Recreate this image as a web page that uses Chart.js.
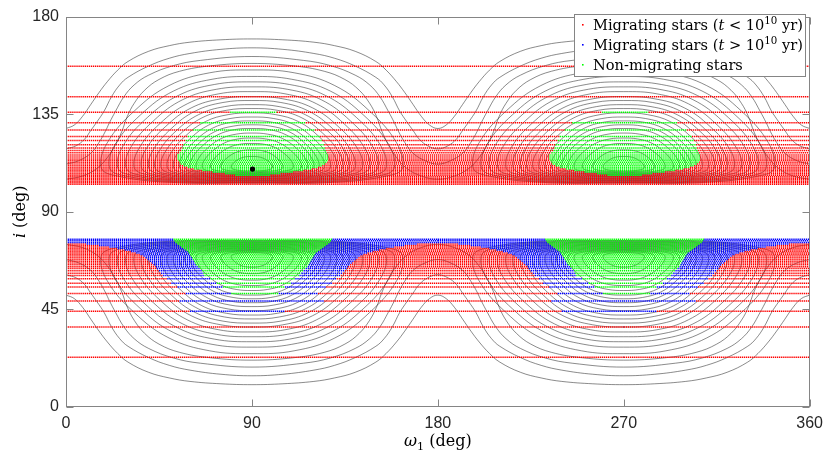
<!DOCTYPE html>
<html>
<head>
<meta charset="utf-8">
<script src="https://cdn.jsdelivr.net/npm/chart.js@4.4.1/dist/chart.umd.min.js"></script>
<style>
  html, body { margin: 0; padding: 0; background: #fff; }
  #wrap { width: 830px; height: 458px; }
</style>
</head>
<body>
<div id="wrap"><canvas id="kozaiChart" width="830" height="458"></canvas></div>
<script>
// axes
const xTicks = [0, 90, 180, 270, 360];
const yTicks = [0, 45, 90, 135, 180];

const RED = '#ff0000', BLUE = '#0000ff', GREEN = '#00ff00';

// inclination of each row of stars above 90 deg
const upperRows = [102.7, 103.4, 104.1, 104.8, 105.5, 106.2, 106.9, 107.6, 108.3, 109.0,
  109.7, 110.4, 111.2, 112.0, 112.8, 113.6, 114.4, 115.3, 116.2, 117.2, 118.3,
  119.4, 120.9, 122.9, 124.7, 127.7, 131.1, 135.9, 143.1, 157.1];
// non-migrating omega range in each upper row (first 180 deg), null = all migrating
const upperGreen = [null, null, null, null, null, null, [82, 99], [77, 104], [71, 110], [66, 115],
  [62, 119], [59, 122], [57, 124], [55.5, 125.5], [55, 126.5], [54.5, 127], [54, 127], [54, 127], [54, 127], [55, 126.5], [56, 126],
  [56.5, 125.5], [57, 125], [58, 124], [59, 123], [61.5, 120.5], [65, 116], [79.5, 102], null, null];

// rows below 90 deg
const lowerRows = [77.3, 76.6, 75.9, 75.2, 74.5, 73.8, 73.1, 72.4, 71.7, 71.0,
  70.3, 69.6, 68.8, 68.0, 67.2, 66.4, 65.6, 64.7, 63.8, 62.8, 61.7,
  60.6, 59.1, 57.1, 55.3, 52.3, 48.9, 44.1, 36.9, 22.9];
// per row: [red ends, green starts, green ends, red starts] (blue in between), first 180 deg
const lowerSplit = [[0, 52, 129, 180], [0, 52.5, 128.5, 180], [0, 53, 128, 180], [10, 54, 127, 170],
  [16, 55, 126, 164], [21, 56, 125, 159], [25, 57, 124, 155], [28.5, 58, 123, 151.5],
  [31.5, 59, 122, 148.5], [34, 59.5, 121, 146], [36, 60, 120.5, 144], [37.5, 60.5, 120, 142.5],
  [38.5, 61, 119.5, 141.5], [39.5, 61.5, 119, 140.5], [40.5, 62, 118.5, 139.5], [41.5, 62.5, 118, 138.5],
  [42.5, 63, 117.5, 137.5], [43.5, 64, 117, 136.5], [44, 65, 116, 136], [45, 66, 115, 135],
  [46, 66.5, 114, 134], [47, 67, 113, 133], [49, 70, 111, 131], [51, 73, 109, 129],
  [54, 76, 106, 126], [58, 80, 103, 122], [55, 90, 90, 125], [60, 83, 83, 106],
  [90, 90, 90, 90], [90, 90, 90, 90]];

// contours, upper-left quarter (omega 0..90, i > 90); circulating ones start at omega = 0
const circQuads = [
  [[0, 128.4], [4, 130], [8, 134], [12, 139.5], [16, 145], [20, 150], [25, 155.3], [30, 159.3], [40, 164], [50, 166.6], [60, 168.2], [75, 169.3], [90, 169.7]],
  [[0, 119], [5, 120.5], [9, 123.5], [12, 127.5], [15, 131.5], [18.5, 136.5], [22, 143], [26, 148.5], [30, 152], [40, 157.2], [50, 160.8], [60, 163], [75, 164.9], [90, 165.6]],
  [[0, 112], [6, 113.5], [12, 117], [16, 122], [19, 127], [21, 131], [24, 136.4], [28, 143], [33, 148.5], [40, 153], [52, 157.4], [65, 159.8], [90, 161.6]],
  [[0, 105], [8, 106.5], [15, 110], [20, 115], [24, 121], [27, 127], [29.7, 134], [33, 140], [38, 146], [45, 151], [55, 154.8], [70, 157.3], [90, 158.4]]
];
// librating ones run from the bottom at omega = 90 round to the top at omega = 90
const librQuads = [
  [[90, 103.2], [49.9, 103.6], [22.8, 106.9], [17, 110.5], [19.9, 121.7], [33.1, 136.5], [49.9, 148.2], [69.6, 154.1], [90, 155.4]],
  [[90, 103.5], [52.1, 103.9], [26.5, 107], [21, 110.5], [23.8, 121], [36.2, 134.8], [52.1, 145.7], [70.7, 151.1], [90, 152.4]],
  [[90, 103.8], [54.3, 104.2], [30.2, 107.2], [25, 110.5], [27.6, 120.4], [39.3, 133.4], [54.3, 143.6], [71.8, 148.7], [90, 149.9]],
  [[90, 104.1], [56.5, 104.5], [33.9, 107.3], [29, 110.5], [31.4, 119.8], [42.4, 132], [56.5, 141.7], [72.9, 146.5], [90, 147.6]],
  [[90, 104.4], [58.7, 104.8], [37.6, 107.5], [33, 110.5], [35.3, 119.2], [45.5, 130.7], [58.7, 139.8], [74, 144.4], [90, 145.4]],
  [[90, 104.7], [60.6, 105.1], [40.8, 107.6], [36.5, 110.5], [38.6, 118.7], [48.3, 129.4], [60.6, 137.9], [75, 142.1], [90, 143.1]],
  [[90, 105], [62.5, 105.4], [44, 107.8], [40, 110.5], [42, 118.2], [51, 128.4], [62.5, 136.4], [76, 140.4], [90, 141.3]],
  [[90, 105.3], [64.2, 105.7], [46.8, 107.9], [43, 110.5], [44.9, 117.7], [53.3, 127.3], [64.2, 134.8], [76.8, 138.5], [90, 139.4]],
  [[90, 105.6], [65.8, 106], [49.5, 108.1], [46, 110.5], [47.8, 117.3], [55.7, 126.2], [65.8, 133.3], [77.7, 136.8], [90, 137.6]],
  [[90, 105.9], [67.5, 106.3], [52.3, 108.2], [49, 110.5], [50.6, 116.8], [58, 125.1], [67.5, 131.6], [78.5, 134.8], [90, 135.6]],
  [[90, 106.2], [69.1, 106.6], [55, 108.4], [52, 110.5], [53.5, 116.3], [60.4, 124], [69.1, 130], [79.4, 133], [90, 133.7]],
  [[90, 106.5], [70.8, 106.9], [57.8, 108.5], [55, 110.5], [56.4, 115.9], [62.7, 122.9], [70.8, 128.5], [80.2, 131.3], [90, 131.9]],
  [[90, 106.8], [72.1, 107.2], [60.1, 108.7], [57.5, 110.5], [58.8, 115.4], [64.7, 121.9], [72.1, 127], [80.9, 129.5], [90, 130.1]],
  [[90, 107.1], [73.5, 107.5], [62.4, 108.8], [60, 110.5], [61.2, 115], [66.6, 120.9], [73.5, 125.5], [81.6, 127.9], [90, 128.4]],
  [[90, 107.4], [75.2, 107.8], [65.2, 109], [63, 110.5], [64.1, 114.5], [68.9, 119.7], [75.2, 123.8], [82.4, 125.8], [90, 126.3]],
  [[90, 107.7], [76.8, 108.1], [67.9, 109.1], [66, 110.5], [67, 113.9], [71.3, 118.3], [76.8, 121.8], [83.3, 123.6], [90, 124]],
  [[90, 108], [79, 108.4], [71.6, 109.3], [70, 110.5], [70.8, 113.3], [74.4, 116.9], [79, 119.7], [84.4, 121.2], [90, 121.5]],
  [[90, 108.4], [81.8, 108.7], [76.2, 109.5], [75, 110.5], [75.6, 112.5], [78.3, 115.1], [81.8, 117.2], [85.8, 118.3], [90, 118.5]],
  [[90, 108.8], [84.5, 109], [80.8, 109.7], [80, 110.5], [80.4, 111.8], [82.2, 113.4], [84.5, 114.7], [87.2, 115.4], [90, 115.5]]
];

const fixedPoint = [90.3, 109.7];

const legendLabels = [
  [{ t: 'Migrating stars (' }, { t: 't', it: true }, { t: ' < 10' }, { t: '10', sup: true }, { t: ' yr)' }],
  [{ t: 'Migrating stars (' }, { t: 't', it: true }, { t: ' > 10' }, { t: '10', sup: true }, { t: ' yr)' }],
  [{ t: 'Non-migrating stars' }]
];
const legendColors = [RED, BLUE, GREEN];

const SERIF = '"DejaVu Serif", "Liberation Serif", serif';
const datasets = [];

function addRow(inc, breaks, colors) {
  const pts = [], cols = [];
  [0, 180].forEach(shift => {
    breaks.forEach((w, k) => { pts.push({ x: w + shift, y: inc }); cols.push(colors[k]); });
  });
  pts.push({ x: 360, y: inc });
  cols.push(colors[colors.length - 1]);
  datasets.push({
    data: pts, showLine: true, pointRadius: 0, borderWidth: 1.5,
    borderDash: [1.35, 0.72], borderColor: colors[0], tension: 0, order: 1,
    segment: { borderColor: c => cols[c.p0DataIndex] }
  });
}

upperRows.forEach((inc, k) => {
  const g = upperGreen[k];
  if (g) addRow(inc, [0, g[0], g[1]], [RED, GREEN, RED]);
  else addRow(inc, [0], [RED]);
});
lowerRows.forEach((inc, k) => {
  const s = lowerSplit[k];
  addRow(inc, [0, s[0], s[1], s[2], s[3]], [RED, BLUE, GREEN, BLUE, RED]);
});

function addContour(pts) {
  [false, true].forEach(lower => {
    datasets.push({
      data: pts.map(p => ({ x: p.x, y: lower ? 180 - p.y : p.y })),
      showLine: true, pointRadius: 0, borderWidth: 0.75,
      borderColor: 'rgba(35,35,35,0.7)', tension: 0.4, order: 2
    });
  });
}

function halfCell(quad, shift) {
  const left = quad.map(p => ({ x: p[0] + shift, y: p[1] }));
  const right = quad.slice(0, -1).reverse().map(p => ({ x: 180 - p[0] + shift, y: p[1] }));
  return left.concat(right);
}

circQuads.forEach(q => {
  const a = halfCell(q, 0), b = halfCell(q, 180);
  addContour(a.concat(b.slice(1)));
});
librQuads.forEach(q => {
  addContour(halfCell(q, 0));
  addContour(halfCell(q, 180));
});

datasets.push({
  data: [{ x: fixedPoint[0], y: fixedPoint[1] }], pointRadius: 2.6,
  pointBackgroundColor: '#000', pointBorderWidth: 0, showLine: false, order: 0
});

function setFont(ctx, p, size) {
  const s = (p.sup || p.sub) ? size * 0.7 : size;
  ctx.font = (p.it ? 'italic ' : '') + s + 'px ' + SERIF;
}
function drawRich(ctx, parts, x, y, size) {
  parts.forEach(p => {
    setFont(ctx, p, size);
    const dy = p.sup ? -size * 0.4 : (p.sub ? size * 0.28 : 0);
    ctx.fillText(p.t, x, y + dy);
    x += ctx.measureText(p.t).width;
  });
  return x;
}
function richWidth(ctx, parts, size) {
  let w = 0;
  parts.forEach(p => { setFont(ctx, p, size); w += ctx.measureText(p.t).width; });
  return w;
}

const framePlugin = {
  id: 'frame',
  afterDraw(chart) {
    const { ctx, chartArea: a, scales } = chart;
    ctx.save();
    ctx.strokeStyle = '#858585';
    ctx.lineWidth = 1;
    const L = Math.round(a.left) + 0.5, R = Math.round(a.right) - 0.5;
    const T = Math.round(a.top) + 0.5, B = Math.round(a.bottom) - 0.5;
    ctx.strokeRect(L, T, R - L, B - T);
    ctx.beginPath();
    xTicks.forEach(v => {
      const px = Math.round(scales.x.getPixelForValue(v)) + 0.5;
      ctx.moveTo(px, B); ctx.lineTo(px, B - 7);
      ctx.moveTo(px, T); ctx.lineTo(px, T + 7);
    });
    yTicks.forEach(v => {
      const py = Math.round(scales.y.getPixelForValue(v)) + 0.5;
      ctx.moveTo(L, py); ctx.lineTo(L + 7, py);
      ctx.moveTo(R, py); ctx.lineTo(R - 7, py);
    });
    ctx.stroke();

    // legend
    ctx.fillStyle = '#fff';
    ctx.fillRect(574, 14, 232, 63);
    ctx.strokeRect(574.5, 14.5, 231, 62);
    ctx.textBaseline = 'alphabetic';
    [30, 50, 70].forEach((yy, k) => {
      ctx.fillStyle = legendColors[k];
      ctx.fillRect(582, yy - 6, 1.6, 1.6);
      ctx.fillStyle = '#000';
      drawRich(ctx, legendLabels[k], 593, yy, 14.6);
    });

    // axis titles
    ctx.fillStyle = '#000';
    const xt = [{ t: 'ω', it: true }, { t: '1', sub: true }, { t: ' (deg)' }];
    const w = richWidth(ctx, xt, 16);
    drawRich(ctx, xt, (a.left + a.right) / 2 - w / 2, 446, 16);
    ctx.translate(25, (a.top + a.bottom) / 2);
    ctx.rotate(-Math.PI / 2);
    const yt = [{ t: 'i', it: true }, { t: ' (deg)' }];
    const wy = richWidth(ctx, yt, 16);
    drawRich(ctx, yt, -wy / 2, 0, 16);
    ctx.restore();
  }
};

const ctx = document.getElementById('kozaiChart').getContext('2d');
const kozaiChart = new Chart(ctx, {
  type: 'scatter',
  data: { datasets: datasets },
  options: {
    responsive: false,
    animation: false,
    devicePixelRatio: 1,
    events: [],
    layout: { padding: { top: 8, right: 18, left: 0, bottom: 0 } },
    plugins: { legend: { display: false }, tooltip: { enabled: false } },
    scales: {
      x: {
        type: 'linear', min: 0, max: 360,
        afterBuildTicks: s => { s.ticks = xTicks.map(v => ({ value: v })); },
        afterFit: s => { s.height = 51; },
        grid: { display: false, drawTicks: false },
        border: { display: false },
        ticks: { color: '#262626', padding: 7, maxRotation: 0, font: { family: '"Liberation Sans", Arial, sans-serif', size: 16 } }
      },
      y: {
        type: 'linear', min: 0, max: 180,
        afterBuildTicks: s => { s.ticks = yTicks.map(v => ({ value: v })); },
        afterFit: s => { s.width = 66; },
        grid: { display: false, drawTicks: false },
        border: { display: false },
        ticks: { color: '#262626', padding: 7, font: { family: '"Liberation Sans", Arial, sans-serif', size: 16 } }
      }
    }
  },
  plugins: [framePlugin]
});
</script>
</body>
</html>
